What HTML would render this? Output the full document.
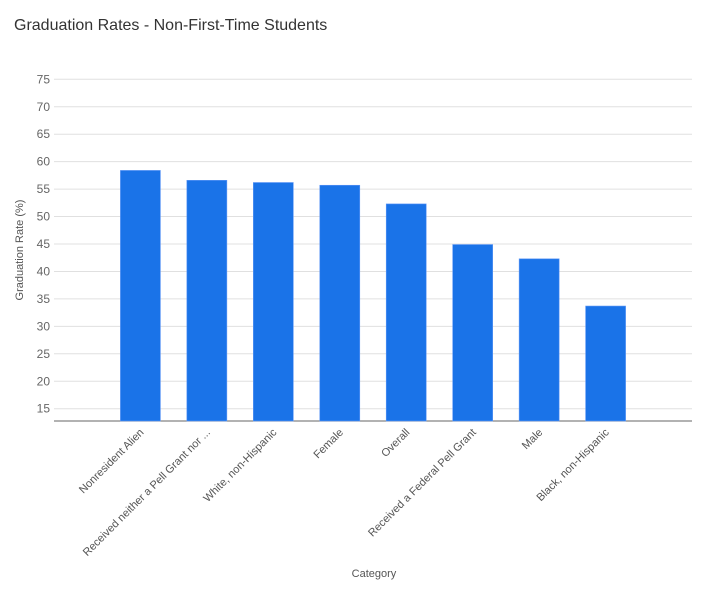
<!DOCTYPE html>
<html><head><meta charset="utf-8"><style>
body{margin:0;background:#fff;font-family:"Liberation Sans",sans-serif;}
svg text{font-family:"Liberation Sans",sans-serif;}
</style></head><body>
<svg width="708" height="595">
<text x="14" y="30" font-size="16" fill="#333">Graduation Rates - Non-First-Time Students</text>
<g id="grid"></g><g id="bars"></g><g id="xl"></g>
<text x="374" y="577" font-size="11" fill="#555" text-anchor="middle">Category</text>
<text transform="translate(23,250) rotate(-90)" font-size="11" fill="#555" text-anchor="middle">Graduation Rate (%)</text>
</svg>
<script>
const categories=["Nonresident Alien","Received neither a Pell Grant nor ...","White, non-Hispanic","Female","Overall","Received a Federal Pell Grant","Male","Black, non-Hispanic"];
const values=[58.4,56.6,56.2,55.7,52.3,44.9,42.3,33.7];
const yTicks=[15,20,25,30,35,40,45,50,55,60,65,70,75];
const NS="http://www.w3.org/2000/svg";
const L=54,R=692,T0=79.3,B=421,yMin=12.76,yMax=75;
const y=v=>B-(v-yMin)/(yMax-yMin)*(B-T0);
const band=(R-L)/(categories.length+1.6);
const cx=i=>L+band*1.3+band*i;
function mk(t,a,p){const e=document.createElementNS(NS,t);for(const k in a)e.setAttribute(k,a[k]);p.appendChild(e);return e;}
const g=document.getElementById('grid');
yTicks.forEach(t=>{
const ln=mk('line',{x1:L,x2:R,y1:y(t),y2:y(t),stroke:'#e0e0e0','stroke-width':1},g);


const tx=mk('text',{x:50,y:y(t)+4,'font-size':12,fill:'#666','text-anchor':'end'},g);
tx.textContent=t;


});
const ax=mk('line',{x1:L,x2:R,y1:B,y2:B,stroke:'#666','stroke-width':1},g);


const bg=document.getElementById('bars'),xl=document.getElementById('xl');
values.forEach((v,i)=>{
const r=mk('rect',{x:cx(i)-20,y:y(v),width:40,height:B-y(v),fill:'#1a73e8',stroke:'#5e97f6','stroke-width':0.6},bg);


const t=mk('text',{transform:`translate(${cx(i)+4},${B+12}) rotate(-45)`,'font-size':11,fill:'#555','text-anchor':'end'},xl);
t.textContent=categories[i];


});
</script>
</body></html>
